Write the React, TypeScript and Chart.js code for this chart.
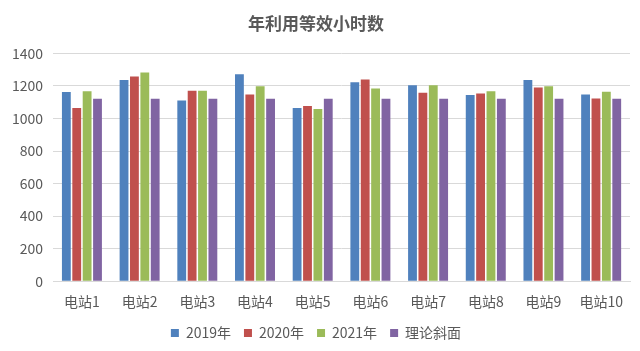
import React, { useEffect, useRef } from "react";
import { Chart, registerables } from "chart.js";

Chart.register(...registerables);

const categories = ["电站1", "电站2", "电站3", "电站4", "电站5", "电站6", "电站7", "电站8", "电站9", "电站10"];
const seriesNames = ["2019年", "2020年", "2021年", "理论斜面"];
const values2019 = [1163, 1237, 1111, 1272, 1064, 1223, 1204, 1144, 1237, 1148];
const values2020 = [1064, 1258, 1171, 1148, 1076, 1239, 1158, 1154, 1191, 1123];
const values2021 = [1167, 1282, 1171, 1198, 1059, 1185, 1204, 1167, 1198, 1165];
const valuesTheory = [1121, 1121, 1121, 1121, 1121, 1121, 1121, 1121, 1121, 1121];
const colors = ["#4F81BD", "#C0504D", "#9BBB59", "#8064A2"];
const yTicks = [0, 200, 400, 600, 800, 1000, 1200, 1400];

const FONT = "'Microsoft YaHei', 'Noto Sans CJK SC', 'Noto Sans', sans-serif";
const TEXT = "#595959";

export default function App() {
  const ref = useRef<HTMLCanvasElement | null>(null);
  useEffect(() => {
    document.body.style.margin = "0";
    const ctx = ref.current!;
    const data = [values2019, values2020, values2021, valuesTheory];
    const chart = new Chart(ctx, {
      type: "bar",
      data: {
        labels: categories,
        datasets: seriesNames.map((n, i) => ({
          label: n,
          data: data[i],
          backgroundColor: colors[i],
          borderWidth: 0,
          categoryPercentage: 0.72,
          barPercentage: 0.85,
        })),
      },
      options: {
        animation: false,
        responsive: false,
        maintainAspectRatio: false,
        layout: { padding: { left: 2, right: 10, top: 0, bottom: 1 } },
        plugins: {
          title: {
            display: true,
            text: "年利用等效小时数",
            color: TEXT,
            font: { family: FONT, size: 17, weight: "bold" },
            padding: { top: 13, bottom: 20 },
          },
          legend: {
            position: "bottom",
            labels: {
              boxWidth: 8,
              boxHeight: 8,
              color: TEXT,
              font: { family: FONT, size: 14 },
              padding: 13,
            },
          },
          tooltip: { enabled: false },
        },
        scales: {
          x: {
            grid: { display: false, drawTicks: false },
            border: { color: "#d9d9d9" },
            ticks: { color: TEXT, font: { family: FONT, size: 14 }, padding: 12 },
            afterFit: (scale: any) => {
              scale.height = scale.height - 9;
            },
          },
          y: {
            min: 0,
            max: 1400,
            afterBuildTicks: (axis: any) => {
              axis.ticks = yTicks.map((v) => ({ value: v }));
            },
            grid: { color: "#d9d9d9", drawTicks: false },
            border: { display: false },
            ticks: {
              color: TEXT,
              font: { family: FONT, size: 14 },
              padding: 10,
              callback: (v: any) => String(v),
            },
          },
        },
      },
    });
    return () => chart.destroy();
  }, []);
  return (
    <div style={{ width: 640, height: 351, background: "#fff" }}>
      <canvas ref={ref} width={640} height={351} />
    </div>
  );
}
